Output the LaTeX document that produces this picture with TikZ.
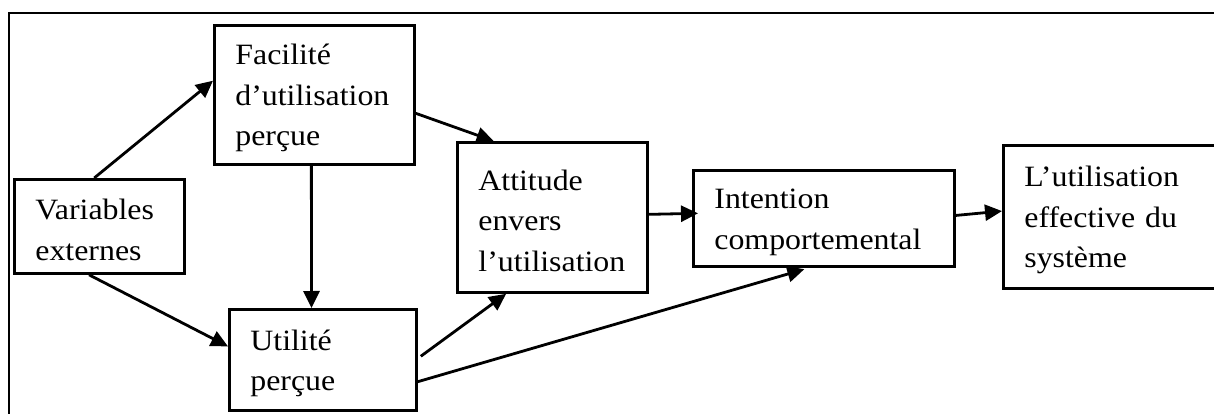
\documentclass[tikz,border=0pt]{standalone}
\usepackage{fontspec}
\setmainfont{Liberation Serif}[FakeStretch=1.08]
\usetikzlibrary{arrows.meta,calc}
\hyphenpenalty=10000
\newcommand{\topstrut}{\rule{0pt}{27pt}}
\begin{document}
\begin{tikzpicture}[x=1pt,y=-1pt,
  box/.style={draw,line width=2.8pt,anchor=north west,inner xsep=21pt,inner ysep=0pt,
    align=left,font=\fontsize{29.5}{40.5}\selectfont},
  arr/.style={line width=2.8pt,-{Triangle[length=17pt,width=16pt]}}]
\useasboundingbox (0,0) rectangle (1214,414);
\clip (0,0) rectangle (1214,414);
\draw[line width=2.8pt] (9,13) rectangle (1250,450);
\node[box,text width=158pt,minimum height=139pt] (fac) at (213,24) {\topstrut Facilité\\d’utilisation\\perçue};
\node[box,text width=128pt,minimum height=94pt] (var) at (13,178) {\topstrut Variables\\externes};
\node[box,text width=145pt,minimum height=101pt] (util) at (228,308) {\topstrut Utilité\\perçue};
\node[box,text width=148pt,minimum height=150pt] (att) at (456,141) {\topstrut Attitude\\envers\\l’utilisation};
\node[box,text width=219pt,minimum height=96pt] (int) at (692,169) {\topstrut Intention\\comportemental};
\node[box,text width=220pt,minimum height=143pt] (eff) at (1002,144) {\topstrut L’utilisation\\effective du\\système};
% connectors
\draw[arr] ($(var.north west)!0.47!(var.north east)$) -- ($(fac.north west)!0.40!(fac.south west)$);
\draw[arr] ($(var.south west)!0.44!(var.south east)$) -- ($(util.north west)!0.37!(util.south west)$);
\draw[arr] ($(fac.south west)!0.485!(fac.south east)$) -- ($(util.north west)!0.44!(util.north east)$);
\draw[arr] ($(fac.north east)!0.63!(fac.south east)$) -- ($(att.north west)!0.195!(att.north east)$);
\draw[arr] ($(util.north east)!0.465!(util.south east)+(3,0)$) -- ($(att.south west)!0.26!(att.south east)$);
\draw[arr,shorten >=5pt] ($(util.north east)!0.71!(util.south east)$) -- ($(int.south west)!0.444!(int.south east)$);
\draw[arr,shorten >=-6pt] ($(att.north east)!0.48!(att.south east)$) -- ($(int.north west)!0.45!(int.south west)$);
\draw[arr] ($(int.north east)!0.47!(int.south east)$) -- ($(eff.north west)!0.46!(eff.south west)$);
\end{tikzpicture}
\end{document}
